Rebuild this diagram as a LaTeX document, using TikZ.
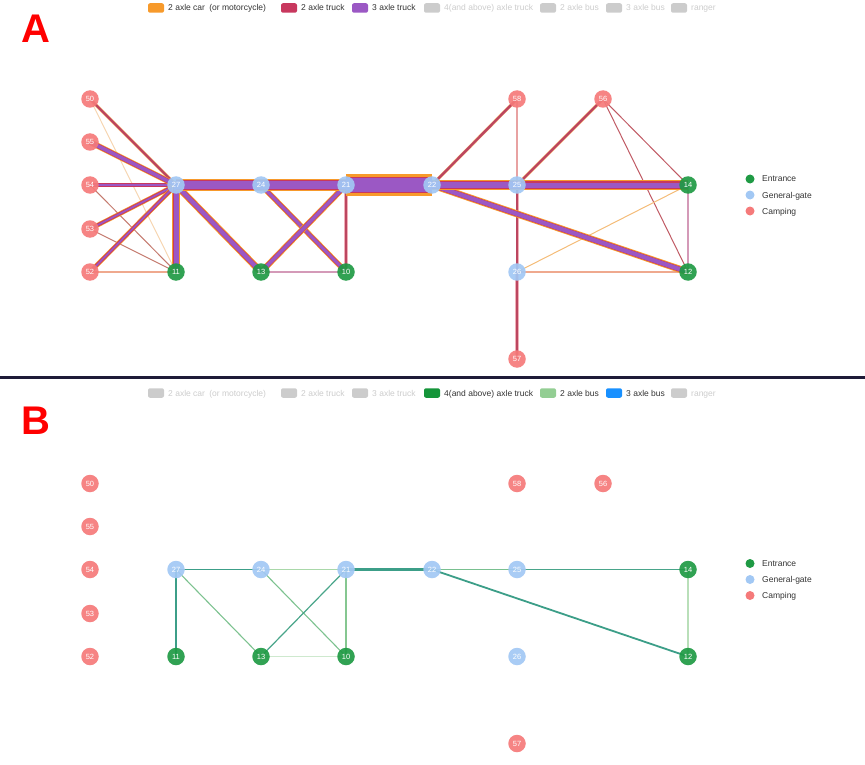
\documentclass[tikz,border=0pt]{standalone}
\usepackage{fontspec}
\setmainfont{Liberation Sans}
\usetikzlibrary{backgrounds}
\definecolor{cOr}{HTML}{F79A2B}
\definecolor{cCr}{HTML}{C8385E}
\definecolor{cCrE}{HTML}{BC4660}
\definecolor{cPu}{HTML}{9B58C4}
\definecolor{cEnt}{HTML}{1F9A44}
\definecolor{cGate}{HTML}{A2C8F4}
\definecolor{cCamp}{HTML}{F57A7A}
\definecolor{cGray}{HTML}{CCCCCC}
\definecolor{cTxt}{HTML}{333333}
\definecolor{cG4}{HTML}{15953A}
\definecolor{cBus2}{HTML}{93CE93}
\definecolor{cBus3}{HTML}{1890FF}
\definecolor{cTeal}{HTML}{3C9E88}
\definecolor{cSep}{HTML}{1E1B38}
\definecolor{cThinBr}{HTML}{C47A6E}
\definecolor{cThinRd}{HTML}{C05A64}
\definecolor{cPeach}{HTML}{F6D6B2}
\definecolor{cSalm}{HTML}{EFA98E}
\definecolor{cMauve}{HTML}{D49AB8}
\definecolor{cPink}{HTML}{E8A2A2}
\definecolor{cLtOr}{HTML}{F4BC78}
\definecolor{cRose}{HTML}{F0B0B8}
\tikzset{
  vnode/.style={circle, minimum size=17.5pt, inner sep=0pt, text=white,
    font=\fontsize{7.5}{7.5}\selectfont, fill opacity=0.92, text opacity=1},
  ent/.style={vnode, fill=cEnt},
  gate/.style={vnode, fill=cGate},
  camp/.style={vnode, fill=cCamp},
  legbox/.style={rounded corners=2pt, minimum width=16pt, minimum height=9.5pt, inner sep=0pt},
  legtxt/.style={anchor=base west, inner sep=0pt, font=\fontsize{8.5}{9}\selectfont},
  dottxt/.style={anchor=base west, inner sep=0pt, font=\fontsize{8.5}{9}\selectfont, text=cTxt},
  legdot/.style={circle, minimum size=9pt, inner sep=0pt},
  bigletter/.style={text=red, font=\fontsize{40}{40}\selectfont\bfseries, inner sep=0pt},
  thin/.style={line width=1pt},
}
\newcommand\mkgraph[2]{%
  \node[camp] (#150) at (90,{99+#2}) {50};
  \node[camp] (#155) at (90,{142+#2}) {55};
  \node[camp] (#154) at (90,{185+#2}) {54};
  \node[camp] (#153) at (90,{229+#2}) {53};
  \node[camp] (#152) at (90,{272+#2}) {52};
  \node[gate] (#127) at (176,{185+#2}) {27};
  \node[gate] (#124) at (261,{185+#2}) {24};
  \node[gate] (#121) at (346,{185+#2}) {21};
  \node[gate] (#122) at (432,{185+#2}) {22};
  \node[gate] (#125) at (517,{185+#2}) {25};
  \node[ent] (#114) at (688,{185+#2}) {14};
  \node[ent] (#111) at (176,{272+#2}) {11};
  \node[ent] (#113) at (261,{272+#2}) {13};
  \node[ent] (#110) at (346,{272+#2}) {10};
  \node[gate] (#126) at (517,{272+#2}) {26};
  \node[ent] (#112) at (688,{272+#2}) {12};
  \node[camp] (#158) at (517,{99+#2}) {58};
  \node[camp] (#156) at (603,{99+#2}) {56};
  \node[camp] (#157) at (517,{359+#2}) {57};
  \node[legdot, fill=cEnt] (#1dE) at (750,{179+#2}) {};
  \node[legdot, fill=cGate] (#1dG) at (750,{195+#2}) {};
  \node[legdot, fill=cCamp] (#1dC) at (750,{211+#2}) {};
  \node[dottxt] (#1tE) at (762,{182+#2}) {Entrance};
  \node[dottxt] (#1tG) at (762,{198+#2}) {General-gate};
  \node[dottxt] (#1tC) at (762,{214+#2}) {Camping};
}
% legend item: name, x of box centre, y, box colour, text colour, text
\newcommand\legitem[6]{%
  \node[legbox, fill=#4] (#1k) at (#2,#3) {};
  \node[legtxt, text=#5] (#1t) at ({#2+12},{#3+3}) {#6};
}
\newcommand\tri[5]{%
  \draw[cOr, line width=#3pt] (#1.center) -- (#2.center);
  \draw[cCr, line width=#4pt] (#1.center) -- (#2.center);
  \draw[cPu, line width=#5pt] (#1.center) -- (#2.center);
}
\newcommand\duo[4]{%
  \draw[cOr!60!white, line width=#3pt] (#1.center) -- (#2.center);
  \draw[cCrE, line width=#4pt] (#1.center) -- (#2.center);
}
\begin{document}
\begin{tikzpicture}[x=1pt, y=-1pt]
\useasboundingbox (0,0) rectangle (865,765);
\node[bigletter] (LA) at (35.5,29) {A};
\node[bigletter] (LB) at (35.5,421) {B};
\coordinate (sepL) at (0,377);
\coordinate (sepR) at (865,377);
\draw[cSep, line width=3pt] (sepL) -- (sepR);
% legend A
\legitem{a1}{156}{8}{cOr}{cTxt}{2 axle car\enspace(or motorcycle)}
\legitem{a2}{289}{8}{cCr}{cTxt}{2 axle truck}
\legitem{a3}{360}{8}{cPu}{cTxt}{3 axle truck}
\legitem{a4}{432}{8}{cGray}{cGray}{4(and above) axle truck}
\legitem{a5}{548}{8}{cGray}{cGray}{2 axle bus}
\legitem{a6}{614}{8}{cGray}{cGray}{3 axle bus}
\legitem{a7}{679}{8}{cGray}{cGray}{ranger}
% legend B
\legitem{b1}{156}{393}{cGray}{cGray}{2 axle car\enspace(or motorcycle)}
\legitem{b2}{289}{393}{cGray}{cGray}{2 axle truck}
\legitem{b3}{360}{393}{cGray}{cGray}{3 axle truck}
\legitem{b4}{432}{393}{cG4}{cTxt}{4(and above) axle truck}
\legitem{b5}{548}{393}{cBus2}{cTxt}{2 axle bus}
\legitem{b6}{614}{393}{cBus3}{cTxt}{3 axle bus}
\legitem{b7}{679}{393}{cGray}{cGray}{ranger}
\mkgraph{a}{0}
\mkgraph{b}{384.5}
\begin{scope}[on background layer]
  % ---- panel A: thin edges
  \draw[cPeach, thin] (a50.center) -- (a11.center);
  \draw[cThinBr, thin] (a54.center) -- (a11.center);
  \draw[cThinBr, thin] (a53.center) -- (a11.center);
  \draw[cSalm, line width=1.4pt] (a52.center) -- (a11.center);
  \draw[cMauve, line width=1.5pt] (a13.center) -- (a10.center);
  \draw[cPink, line width=1.2pt] (a58.center) -- (a25.center);
  \draw[cThinRd, thin] (a56.center) -- (a14.center);
  \draw[cThinRd, thin] (a56.center) -- (a12.center);
  \draw[cMauve, line width=1.5pt] (a14.center) -- (a12.center);
  \draw[cLtOr, thin] (a26.center) -- (a14.center);
  \draw[cSalm, line width=1.2pt] (a26.center) -- (a12.center);
  % ---- panel A: crimson edges
  \duo{a50}{a27}{3.2}{2.4}
  \duo{a58}{a22}{3.2}{2.4}
  \duo{a56}{a25}{3.2}{2.4}
  \draw[cRose, line width=3pt] (a25.center) -- (a26.center);
  \draw[cCrE, line width=1.8pt] (a25.center) -- (a26.center);
  \draw[cRose, line width=4.5pt] (a26.center) -- (a57.center);
  \draw[cCrE, line width=2.6pt] (a26.center) -- (a57.center);
  \draw[cRose, line width=4pt] (a21.center) -- (a10.center);
  \draw[cCrE, line width=2.2pt] (a21.center) -- (a10.center);
  \tri{a54}{a27}{4.5}{3.2}{1.4}
  \tri{a53}{a27}{4.5}{3.2}{1.6}
  \tri{a52}{a27}{4.5}{3.2}{1.6}
  \tri{a55}{a27}{6}{4.5}{3.5}
  % ---- panel A: heavy edges
  \tri{a24}{a10}{5.5}{4}{3}
  \tri{a21}{a13}{6}{4.5}{3.4}
  \tri{a27}{a13}{7}{5.2}{4.2}
  \tri{a27}{a11}{8}{6}{5}
  \tri{a22}{a12}{7}{5.2}{4.2}
  \tri{a25}{a14}{9}{7}{5}
  \tri{a22}{a25}{9}{7}{5.5}
  \tri{a27}{a24}{12}{9}{7}
  \tri{a24}{a21}{12}{9}{7}
  \tri{a21}{a22}{22}{16}{13}
  % ---- panel B edges
  \draw[cTeal, line width=1.8pt] (b27.center) -- (b24.center);
  \draw[cBus2!80, line width=1.3pt] (b24.center) -- (b21.center);
  \draw[cTeal, line width=2.8pt] (b21.center) -- (b22.center);
  \draw[cBus2!70!cTeal, line width=1.5pt] (b22.center) -- (b25.center);
  \draw[cTeal!85!cBus2, line width=1.5pt] (b25.center) -- (b14.center);
  \draw[cTeal, line width=1.8pt] (b22.center) -- (b12.center);
  \draw[cTeal, line width=2.5pt] (b27.center) -- (b11.center);
  \draw[cBus2!75!cTeal, line width=1.1pt] (b27.center) -- (b13.center);
  \draw[cBus2!75!cTeal, line width=1.1pt] (b24.center) -- (b10.center);
  \draw[cTeal!85!cBus2, line width=1.2pt] (b21.center) -- (b13.center);
  \draw[cBus2!85!cTeal, line width=1.2pt] (b21.center) -- (b10.center);
  \draw[cBus2!45, line width=1.5pt] (b13.center) -- (b10.center);
  \draw[cBus2!65, line width=1.5pt] (b14.center) -- (b12.center);
\end{scope}
\end{tikzpicture}
\end{document}
